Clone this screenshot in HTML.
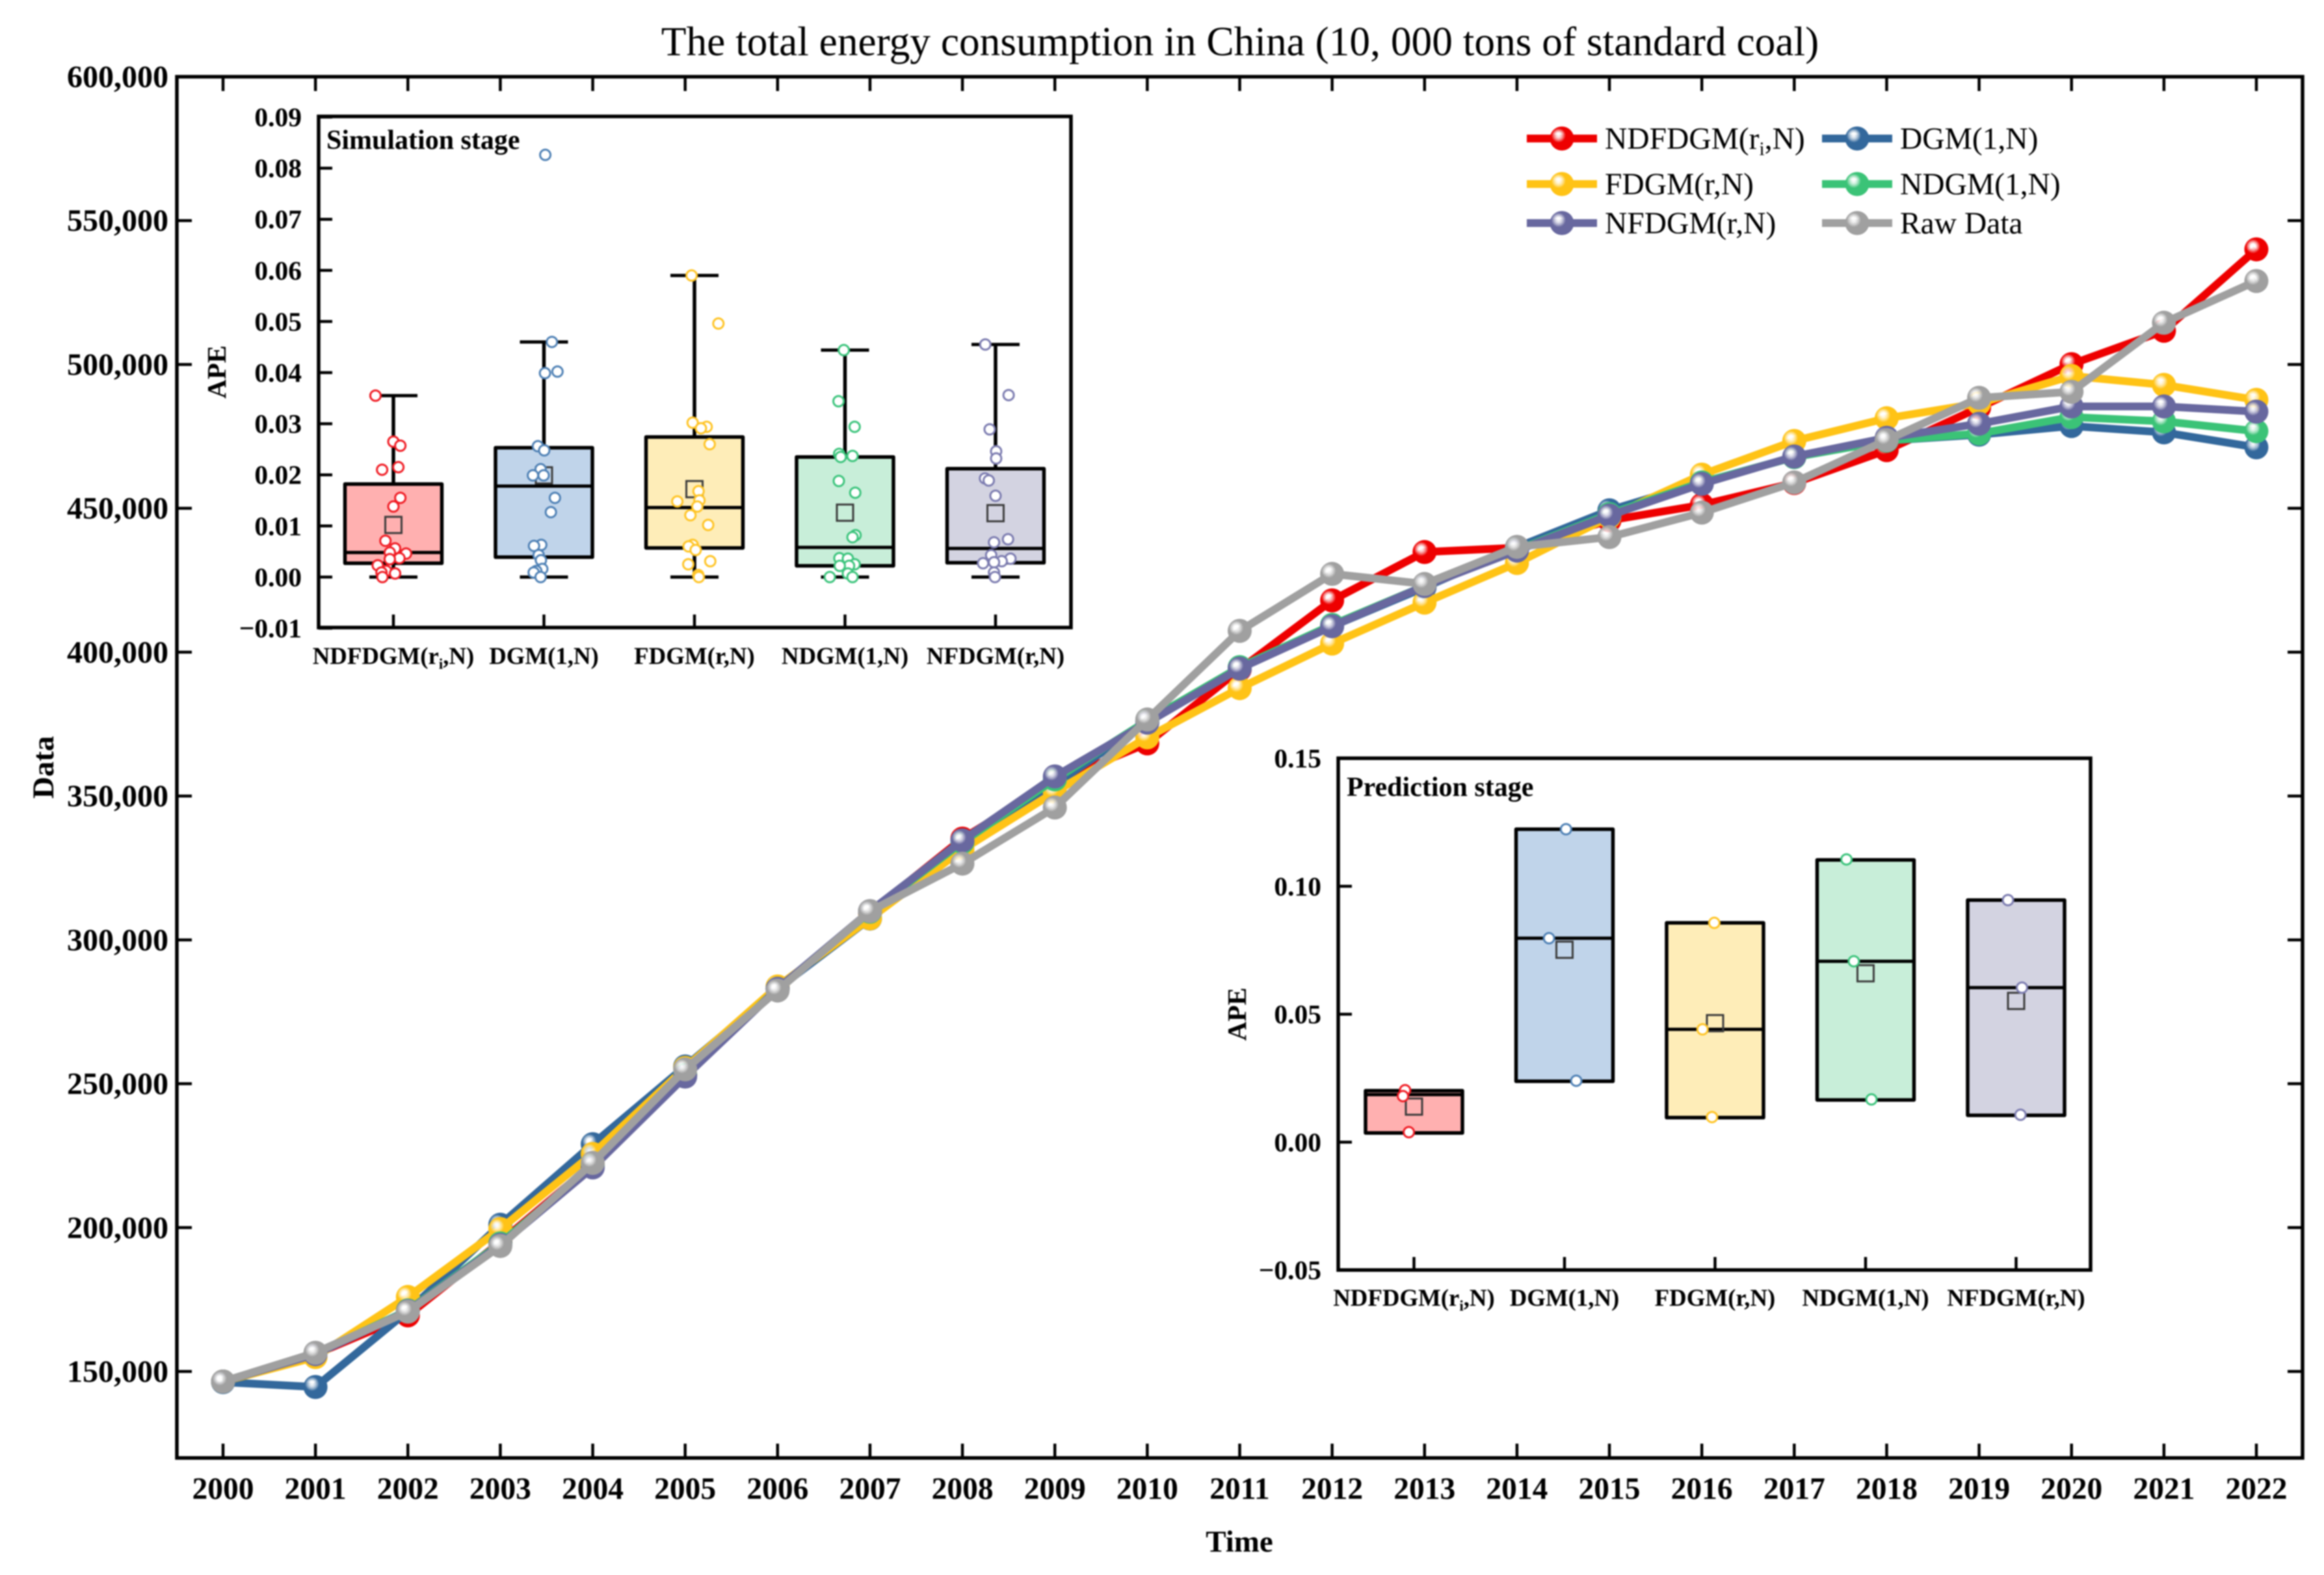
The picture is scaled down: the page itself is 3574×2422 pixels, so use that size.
<!DOCTYPE html>
<html lang="en">
<head>
<meta charset="utf-8">
<title>The total energy consumption in China</title>
<style>
html,body{margin:0;padding:0;background:#fff;}
#chart{display:block;width:3574px;height:2422px;filter:blur(1px);font-family:"Liberation Serif","Times New Roman",serif;}
text{fill:#000;}
.b{font-weight:bold;}
</style>
</head>
<body>
<svg id="chart" xmlns="http://www.w3.org/2000/svg" width="3574" height="2422" viewBox="0 0 3574 2422">
  <rect x="0" y="0" width="3574" height="2422" fill="#ffffff"/>
  <defs id="defs"></defs>
  <text x="1907" y="85" font-size="63.4" text-anchor="middle">The total energy consumption in China (10, 000 tons of standard coal)</text>
  <text class="b" x="1906" y="2386" font-size="47" text-anchor="middle">Time</text>
  <text class="b" transform="translate(82,1180) rotate(-90)" x="0" y="0" font-size="47" text-anchor="middle">Data</text>
  <g id="main-plot"></g>
  <g id="legend"></g>
  <g id="sim-inset"></g>
  <g id="pred-inset"></g>
</svg>
<script>
// ---------- Main chart data ----------
const years = [2000,2001,2002,2003,2004,2005,2006,2007,2008,2009,2010,2011,2012,2013,2014,2015,2016,2017,2018,2019,2020,2021,2022];
const yTickValues = [150000,200000,250000,300000,350000,400000,450000,500000,550000,600000];
const yTickLabels = ['150,000','200,000','250,000','300,000','350,000','400,000','450,000','500,000','550,000','600,000'];
const ndfdgmValues = [146500,156000,169500,195000,222000,253000,283000,309500,335200,355000,368300,394000,418000,434800,436300,445800,451200,458800,470200,485000,500100,511700,540000];
const dgmValues = [146300,144600,171000,201000,229000,256000,283000,307400,333000,354000,376000,394500,409000,422500,436500,449300,459000,467800,473500,475600,478600,476400,471200];
const fdgmValues = [146500,155000,175900,199500,225600,255500,283800,307500,331400,351400,370400,387500,403000,417200,431000,447000,461700,473400,481300,486500,496000,492900,487700];
const ndgmValues = [146500,156200,171200,194500,221500,253000,283000,309800,334000,355800,376200,394800,409500,423000,435500,448000,459000,467800,473500,476000,481700,480200,476800];
const nfdgmValues = [146500,156000,171000,194000,220900,252500,283000,310000,334600,356800,375500,394300,409000,423000,435300,447500,458500,468000,474500,479400,485400,485400,483600];
const rawValues = [146500,156500,170800,193600,222500,255000,282400,310000,326500,346000,376600,407400,427200,423700,436600,440000,448500,459000,473700,488400,490500,514500,529000];

// ---------- Simulation inset data ----------
const categoryLabels = ['NDFDGM(r_i,N)','DGM(1,N)','FDGM(r,N)','NDGM(1,N)','NFDGM(r,N)'];
const simYTicks = [-0.01,0,0.01,0.02,0.03,0.04,0.05,0.06,0.07,0.08,0.09];
const simYTickLabels = ['\u22120.01','0.00','0.01','0.02','0.03','0.04','0.05','0.06','0.07','0.08','0.09'];
const simQ1 = [0.0027,0.0039,0.0057,0.0022,0.0028];
const simMedian = [0.0048,0.0178,0.0136,0.0058,0.0056];
const simQ3 = [0.0182,0.0253,0.0274,0.0235,0.0212];
const simMean = [0.0102,0.0199,0.0172,0.0126,0.0125];
const simWhiskerLow = [0,0,0,0,0];
const simWhiskerHigh = [0.0355,0.046,0.059,0.0444,0.0455];
const simPointsNdfdgm = [0.0355,0.0265,0.0257,0.0215,0.021,0.0155,0.0138,0.0071,0.0056,0.0046,0.0048,0.0037,0.0035,0.0023,0.0012,0.0009,0.0007,0];
const simJitterNdfdgm = [-0.119,0,0.046,0.033,-0.075,0.046,0,-0.053,0.011,0.084,-0.024,0.04,-0.024,-0.104,-0.048,-0.079,0.011,-0.073];
const simPointsDgm = [0.0826,0.046,0.0402,0.0399,0.0256,0.0248,0.0211,0.0199,0.0199,0.0155,0.0127,0.0063,0.0061,0.0043,0.0033,0.0016,0.0012,0.0009,0];
const simJitterDgm = [0.009,0.053,0.09,0.007,-0.04,0.002,-0.022,-0.073,-0.002,0.073,0.046,-0.018,-0.066,-0.035,-0.02,-0.011,-0.051,-0.068,-0.022];
const simPointsFdgm = [0.059,0.0496,0.0302,0.0294,0.0291,0.026,0.0168,0.0148,0.015,0.0138,0.0121,0.0102,0.0063,0.006,0.0053,0.0031,0.0025,0.0004,0];
const simJitterFdgm = [-0.019,0.159,-0.012,0.081,0.043,0.101,0.027,-0.114,0.033,0.019,-0.027,0.091,-0.012,-0.039,0.008,0.105,-0.041,0.025,0.029];
const simPointsNdgm = [0.0444,0.0344,0.0294,0.0241,0.0235,0.0237,0.0188,0.0165,0.0082,0.0078,0.0037,0.0036,0.0025,0.0022,0.0022,0.0007,0,0];
const simJitterNdgm = [-0.008,-0.043,0.064,-0.039,-0.029,0.05,-0.041,0.068,0.07,0.05,-0.037,0.019,0.064,0.027,-0.035,0.019,-0.101,0.05];
const simPointsNfdgm = [0.0455,0.0356,0.0289,0.0246,0.0232,0.0193,0.0189,0.0159,0.0074,0.0068,0.0043,0.0036,0.0031,0.0029,0.0027,0.0009,0];
const simJitterNfdgm = [-0.068,0.087,-0.039,0.004,0.004,-0.07,-0.045,0,0.083,-0.01,-0.029,0.099,0.041,-0.01,-0.083,-0.01,-0.004];

// ---------- Prediction inset data ----------
const predYTicks = [-0.05,0,0.05,0.1,0.15];
const predYTickLabels = ['\u22120.05','0.00','0.05','0.10','0.15'];
const predQ1 = [0.0036,0.0238,0.0096,0.0165,0.0105];
const predMedian = [0.0186,0.0797,0.0441,0.0707,0.0604];
const predQ3 = [0.0201,0.1223,0.0857,0.1103,0.0946];
const predMean = [0.0139,0.0752,0.0465,0.066,0.0552];
const predPointsNdfdgm = [0.0203,0.018,0.0039];
const predJitterNdfdgm = [-0.059,-0.073,-0.034];
const predPointsDgm = [0.1223,0.0797,0.0240];
const predJitterDgm = [0.01,-0.103,0.078];
const predPointsFdgm = [0.0857,0.0441,0.0098];
const predJitterFdgm = [-0.005,-0.083,-0.02];
const predPointsNdgm = [0.1105,0.0707,0.0167];
const predJitterNdgm = [-0.127,-0.078,0.039];
const predPointsNfdgm = [0.0946,0.0604,0.0107];
const predJitterNfdgm = [-0.054,0.039,0.029];

// ---------- Styling ----------
const lineColors = {ndfdgm:'#ee0000',dgm:'#33689c',fdgm:'#ffc316',ndgm:'#3bc377',nfdgm:'#68689f',raw:'#a0a0a0'};
const boxFills = ['#ffb0b0','#c0d4ea','#feedb8','#c8eed9','#d3d3e1'];
const pointColors = ['#f01c24','#4f81b5','#ffc425','#3cc47c','#7c7cb0'];

const NS = 'http://www.w3.org/2000/svg';
function mk(tag, attrs, parent){
  const el = document.createElementNS(NS, tag);
  for (const k in attrs) el.setAttribute(k, attrs[k]);
  if (parent) parent.appendChild(el);
  return el;
}
function slug(s){ return s.replace(/_i/,'i').replace(/[^A-Za-z0-9]+/g,'-').replace(/-+$/,'').toLowerCase(); }
function addModelLabel(el, label, size){
  // writes label text, turning "_i" into a subscript
  const parts = label.split('_i');
  if (parts.length === 1){ el.textContent = label; return; }
  el.appendChild(document.createTextNode(parts[0]));
  const sub = mk('tspan', {dy: size*0.2, 'font-size': size*0.62}, el);
  sub.textContent = 'i';
  const rest = mk('tspan', {dy: -size*0.2}, el);
  rest.textContent = parts[1];
}

// ---------- Gradients for sphere markers ----------
const defs = document.getElementById('defs');
for (const key in lineColors){
  const g = mk('radialGradient', {id:'sphere-'+key, cx:'0.36', cy:'0.37', r:'0.62'}, defs);
  mk('stop', {offset:'0', 'stop-color':'#ffffff', 'stop-opacity':'1'}, g);
  mk('stop', {offset:'0.16', 'stop-color':'#ffffff', 'stop-opacity':'0.8'}, g);
  mk('stop', {offset:'0.48', 'stop-color':lineColors[key]}, g);
  mk('stop', {offset:'1', 'stop-color':lineColors[key]}, g);
}

// ---------- Main axes ----------
const PLOT = {left:272, right:3541, top:118, bottom:2242};
function xYear(i){ return 343 + i*(3470-343)/(years.length-1); }
function yMain(v){ return PLOT.top + (600000-v)*(2109-118)/450000; }

const mainG = document.getElementById('main-plot');
const frame = mk('rect', {x:PLOT.left, y:PLOT.top, width:PLOT.right-PLOT.left, height:PLOT.bottom-PLOT.top, fill:'none', stroke:'#000', 'stroke-width':5.5}, mainG);



years.forEach(function(yr, i){
  const x = xYear(i);
  const bt = mk('line', {x1:x, x2:x, y1:PLOT.bottom, y2:PLOT.bottom-22, stroke:'#000', 'stroke-width':4.5}, mainG);
  
  
  const tt = mk('line', {x1:x, x2:x, y1:PLOT.top, y2:PLOT.top+22, stroke:'#000', 'stroke-width':4.5}, mainG);
  
  
  const lb = mk('text', {x:x, y:2305, 'font-size':47.5, 'font-weight':'bold', 'text-anchor':'middle'}, mainG);
  
  
  lb.textContent = yr;
});
yTickValues.forEach(function(v, i){
  const y = yMain(v);
  const lt = mk('line', {x1:PLOT.left, x2:PLOT.left+23, y1:y, y2:y, stroke:'#000', 'stroke-width':4.5}, mainG);
  
  
  const rt = mk('line', {x1:PLOT.right, x2:PLOT.right-23, y1:y, y2:y, stroke:'#000', 'stroke-width':4.5}, mainG);
  
  
  const lb = mk('text', {x:259, y:y+16, 'font-size':48, 'font-weight':'bold', 'text-anchor':'end'}, mainG);
  
  
  lb.textContent = yTickLabels[i];
});

// ---------- Main series (draw order matches the reference) ----------
const seriesKeys = ['ndfdgm','dgm','fdgm','ndgm','nfdgm','raw'];
const seriesData = [ndfdgmValues,dgmValues,fdgmValues,ndgmValues,nfdgmValues,rawValues];
seriesKeys.forEach(function(key, s){
  const vals = seriesData[s];
  const g = mk('g', {}, mainG);
  
  
  const pts = vals.map(function(v,i){ return xYear(i).toFixed(1)+','+yMain(v).toFixed(1); }).join(' ');
  const line = mk('polyline', {points:pts, fill:'none', stroke:lineColors[key], 'stroke-width':12, 'stroke-linejoin':'round'}, g);
  
  
  vals.forEach(function(v,i){
    const c = mk('circle', {cx:xYear(i), cy:yMain(v), r:18.5, fill:'url(#sphere-'+key+')'}, g);
    
    
  });
});

// ---------- Legend ----------
const legendLabels = ['NDFDGM(r_i,N)','DGM(1,N)','FDGM(r,N)','NDGM(1,N)','NFDGM(r,N)','Raw Data'];
const legendKeys = ['ndfdgm','dgm','fdgm','ndgm','nfdgm','raw'];
const legendRows = [213,213,283,283,343,343];
const legendCols = [2348,2802,2348,2802,2348,2802];
const legendG = document.getElementById('legend');
legendLabels.forEach(function(label, i){
  const key = legendKeys[i], y = legendRows[i], x0 = legendCols[i];
  const g = mk('g', {}, legendG);
  
  
  const ln = mk('line', {x1:x0, x2:x0+108, y1:y, y2:y, stroke:lineColors[key], 'stroke-width':12}, g);
  
  
  const c = mk('circle', {cx:x0+54, cy:y, r:18.5, fill:'url(#sphere-'+key+')'}, g);
  
  
  const t = mk('text', {x:x0+120, y:y+16, 'font-size':47.5}, g);
  
  
  addModelLabel(t, label, 47.5);
});

// ---------- Inset box plots ----------
function drawInset(cfg){
  const g = document.getElementById(cfg.id);
  const prefix = cfg.prefix;
  const xCat = function(i){ return cfg.x0 + i*cfg.step; };
  const yVal = cfg.y;

  const bg = mk('rect', {x:cfg.left, y:cfg.top, width:cfg.right-cfg.left, height:cfg.bottom-cfg.top, fill:'#ffffff', stroke:'#000', 'stroke-width':5.5}, g);
  
  

  cfg.yTicks.forEach(function(v, i){
    const y = yVal(v);
    const t = mk('line', {x1:cfg.left, x2:cfg.left+21, y1:y, y2:y, stroke:'#000', 'stroke-width':4.5}, g);
    
    
    const lb = mk('text', {x:cfg.labelRight, y:y+14, 'font-size':41.5, 'font-weight':'bold', 'text-anchor':'end'}, g);
    
    
    lb.textContent = cfg.yLabels[i];
  });

  categoryLabels.forEach(function(label, i){
    const cx = xCat(i), hw = 74.5, name = slug(label);
    const grp = mk('g', {}, g);
    
    

    const tick = mk('line', {x1:cx, x2:cx, y1:cfg.bottom, y2:cfg.bottom-20, stroke:'#000', 'stroke-width':4.5}, grp);
    
    

    const wl = mk('line', {x1:cx, x2:cx, y1:yVal(cfg.wLow[i]), y2:yVal(cfg.wHigh[i]), stroke:'#000', 'stroke-width':5.5}, grp);
    
    
    const capH = mk('line', {x1:cx-37, x2:cx+37, y1:yVal(cfg.wHigh[i]), y2:yVal(cfg.wHigh[i]), stroke:'#000', 'stroke-width':5}, grp);
    
    
    const capL = mk('line', {x1:cx-37, x2:cx+37, y1:yVal(cfg.wLow[i]), y2:yVal(cfg.wLow[i]), stroke:'#000', 'stroke-width':5}, grp);
    
    

    const box = mk('rect', {x:cx-hw, y:yVal(cfg.q3[i]), width:hw*2, height:yVal(cfg.q1[i])-yVal(cfg.q3[i]), fill:boxFills[i], stroke:'#000', 'stroke-width':5.5, 'stroke-linejoin':'round'}, grp);
    
    
    const med = mk('line', {x1:cx-hw, x2:cx+hw, y1:yVal(cfg.median[i]), y2:yVal(cfg.median[i]), stroke:'#000', 'stroke-width':5}, grp);
    
    
    const mn = mk('rect', {x:cx-12.5, y:yVal(cfg.mean[i])-12.5, width:25, height:25, fill:'none', stroke:'#3c3c3c', 'stroke-width':3}, grp);
    
    

    cfg.points[i].forEach(function(v, k){
      const p = mk('circle', {cx:cx + cfg.jitter[i][k]*cfg.step, cy:yVal(v), r:cfg.pointR, fill:'#ffffff', stroke:pointColors[i], 'stroke-width':3}, grp);
      
      
    });

    const lb = mk('text', {x:cx, y:cfg.catLabelY, 'font-size':36.8, 'font-weight':'bold', 'text-anchor':'middle'}, g);
    
    
    addModelLabel(lb, label, 36.8);
  });

  const title = mk('text', {x:cfg.titleX, y:cfg.titleY, 'font-size':42, 'font-weight':'bold'}, g);
  
  
  title.textContent = cfg.title;

  const ape = mk('text', {transform:'translate('+cfg.apeX+','+((cfg.top+cfg.bottom)/2)+') rotate(-90)', x:0, y:0, 'font-size':41, 'font-weight':'bold', 'text-anchor':'middle'}, g);
  
  
  ape.textContent = 'APE';
}

drawInset({
  id:'sim-inset', prefix:'sim', title:'Simulation stage',
  left:490, right:1647, top:179, bottom:965, x0:605, step:231.5,
  y:function(v){ return 887.4 - v*7860; },
  labelRight:464, catLabelY:1021, titleX:502, titleY:229, apeX:347,
  yTicks:simYTicks, yLabels:simYTickLabels,
  q1:simQ1, median:simMedian, q3:simQ3, mean:simMean, wLow:simWhiskerLow, wHigh:simWhiskerHigh,
  points:[simPointsNdfdgm,simPointsDgm,simPointsFdgm,simPointsNdgm,simPointsNfdgm],
  jitter:[simJitterNdfdgm,simJitterDgm,simJitterFdgm,simJitterNdgm,simJitterNfdgm],
  pointR:8
});
drawInset({
  id:'pred-inset', prefix:'pred', title:'Prediction stage',
  left:2058, right:3215, top:1166, bottom:1953, x0:2174.5, step:231.5,
  y:function(v){ return 1756.4 - v*3935; },
  labelRight:2032, catLabelY:2008, titleX:2071, titleY:1224, apeX:1916,
  yTicks:predYTicks, yLabels:predYTickLabels,
  q1:predQ1, median:predMedian, q3:predQ3, mean:predMean, wLow:predQ1, wHigh:predQ3,
  points:[predPointsNdfdgm,predPointsDgm,predPointsFdgm,predPointsNdgm,predPointsNfdgm],
  jitter:[predJitterNdfdgm,predJitterDgm,predJitterFdgm,predJitterNdgm,predJitterNfdgm],
  pointR:8
});
</script>
</body>
</html>
